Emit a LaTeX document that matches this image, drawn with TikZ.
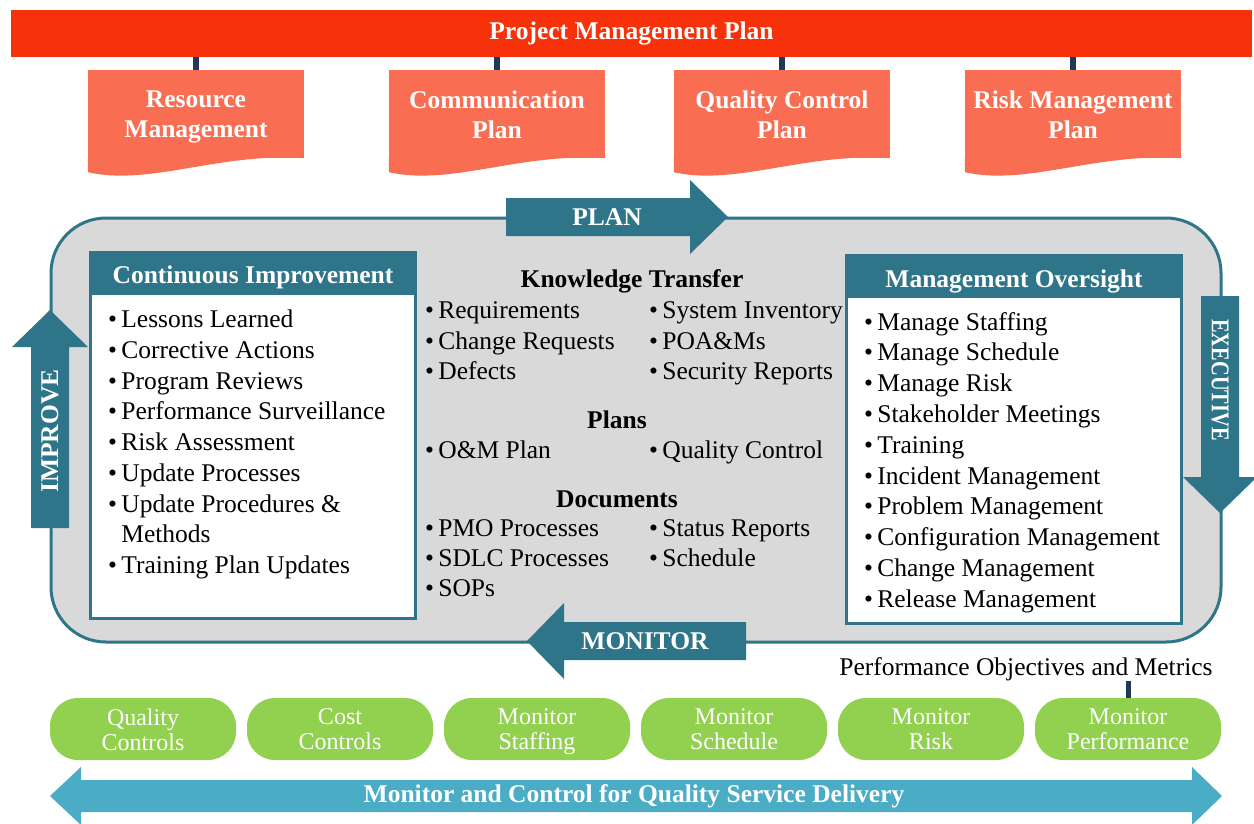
\documentclass[tikz,border=0pt]{standalone}
\usepackage{fontspec}
\usepackage{graphicx}
\setmainfont{Liberation Serif}
\usetikzlibrary{calc}
\definecolor{pmpred}{RGB}{247,50,10}
\definecolor{docorange}{RGB}{249,110,82}
\definecolor{linknavy}{RGB}{31,56,92}
\definecolor{cycleteal}{RGB}{46,117,137}
\definecolor{panelgray}{RGB}{217,217,217}
\definecolor{pillgreen}{RGB}{146,208,80}
\definecolor{deliveryblue}{RGB}{75,172,198}
\newcommand{\blt}{\textbullet\,}
\begin{document}
\begin{tikzpicture}[x=1pt, y=-1pt,
    bar/.style={fill=pmpred, inner sep=0pt, text=white, font=\bfseries\fontsize{25.5}{30}\selectfont},
    doc/.style={fill=docorange, minimum width=216pt, minimum height=88pt, inner sep=0pt},
    doctext/.style={inner sep=0pt, align=center, text=white, font=\bfseries\fontsize{25.5}{30}\selectfont, execute at end node=\vphantom{g}},
    link/.style={draw=linknavy, line width=6pt},
    panel/.style={draw=cycleteal, line width=3pt, fill=panelgray, rounded corners=55pt, inner sep=0pt},
    arrowtext/.style={text=white, inner sep=0pt, font=\bfseries\fontsize{25.5}{30}\selectfont},
    listbox/.style={draw=cycleteal, line width=3pt, fill=white, inner sep=0pt},
    listhead/.style={fill=cycleteal, inner sep=0pt, text height=21pt, text depth=0pt, text=white, font=\bfseries\fontsize{25.5}{30}\selectfont},
    listitem/.style={anchor=base west, inner sep=0pt, font=\fontsize{25.5}{30}\selectfont},
    heading/.style={anchor=base, inner sep=0pt, font=\bfseries\fontsize{25.5}{30}\selectfont},
    pill/.style={fill=pillgreen, rounded corners=28pt, minimum width=186pt, minimum height=62pt, inner sep=0pt},
    pilltext/.style={inner sep=0pt, align=center, text=white, font=\fontsize{24}{25}\selectfont, execute at end node=\vphantom{g}}]
  \useasboundingbox (0,0) rectangle (1254,823);
  \fill[white] (0,0) rectangle (1254,823);

  % plan documents
  \node[bar, minimum width=1241pt, minimum height=47pt] (pmp) at (631.5,33.5) {Project Management Plan};
  \foreach \x/\name/\txt in {196/res/{Resource\\Management}, 497/com/{Communication\\Plan}, 782/qcp/{Quality Control\\Plan}, 1073/rmp/{Risk Management\\Plan}} {
    \node[doc] (\name) at (\x,114) {};
    \fill[docorange] ([yshift=1pt]\name.south west) -- ($(\name.south west)+(0,14)$)
      .. controls ($(\name.south west)+(62,28)$) and ($(\name.south west)+(132,-6)$) .. (\name.south east)
      -- ([yshift=1pt]\name.south east) -- cycle;
    \node[doctext] (\name txt) at ([yshift=-3pt]\name.center) {\txt};
    \draw[link] (pmp.south -| \name.north) -- (\name.north);
  }

  % the cycle
  \node[panel, minimum width=1170pt, minimum height=424pt] (core) at (636,430) {};
  \fill[cycleteal] (506,198) -- (690,198) -- (690,180) -- (728,217) -- (690,254) -- (690,236) -- (506,236) -- cycle;
  \fill[cycleteal] (746,622) -- (564,622) -- (564,603) -- (527,641) -- (564,679) -- (564,660) -- (746,660) -- cycle;
  \fill[cycleteal] (31,528) -- (31,347) -- (12,347) -- (50,310) -- (88,347) -- (69,347) -- (69,528) -- cycle;
  \fill[cycleteal] (1201,296) -- (1201,477) -- (1183,477) -- (1220,513) -- (1257,477) -- (1239,477) -- (1239,296) -- cycle;
  \node[arrowtext] (plan) at (607,217) {PLAN};
  \node[arrowtext] (monitor) at (645,641) {MONITOR};
  \node[arrowtext, rotate=90] (improve) at (50,431) {IMPROVE};
  \node[arrowtext, rotate=-90] (executive) at (1220,380) {\scalebox{0.8}[1]{EXECUTIVE}};

  % continuous improvement
  \node[listbox, minimum width=325pt, minimum height=366pt] (ci) at (253,435.5) {};
  \node[listhead, minimum width=328pt, minimum height=44pt] (cihead) at (253,273) {Continuous Improvement};
  \foreach \y/\txt [count=\i] in {327/\blt Lessons Learned, 358/\blt Corrective Actions, 389/\blt Program Reviews,
      419/\blt Performance Surveillance, 450/\blt Risk Assessment, 481/\blt Update Processes,
      512/\blt Update Procedures \&, 542/\hphantom{\blt}Methods, 573/\blt Training Plan Updates}
    \node[listitem] (ci\i) at (108,\y) {\txt};

  % knowledge transfer
  \node[heading] (kt) at (632,287) {Knowledge Transfer};
  \node[heading] (plans) at (617,428) {Plans};
  \node[heading] (docs) at (617,507) {Documents};
  \foreach \y/\txt [count=\i] in {318/Requirements, 349/Change Requests, 379/Defects, 458/O\&M Plan,
      536/PMO Processes, 566/SDLC Processes, 596/SOPs}
    \node[listitem] (kl\i) at (425,\y) {\blt\txt};
  \foreach \y/\txt [count=\i] in {318/System Inventory, 349/POA\&Ms, 379/Security Reports, 458/Quality Control,
      536/Status Reports, 566/Schedule}
    \node[listitem] (kr\i) at (649,\y) {\blt\txt};

  % management oversight
  \node[listbox, minimum width=335pt, minimum height=368pt] (mo) at (1014,439.5) {};
  \node[listhead, minimum width=338pt, minimum height=43pt] (mohead) at (1014,276.5) {Management Oversight};
  \foreach \txt [count=\i] in {Manage Staffing, Manage Schedule, Manage Risk, Stakeholder Meetings, Training,
      Incident Management, Problem Management, Configuration Management, Change Management, Release Management}
    \node[listitem] (mo\i) at (864,{299.2+30.8*\i}) {\blt\txt};

  % monitoring
  \foreach \x/\name/\txt in {143/qc/{Quality\\Controls}, 340/cc/{Cost\\Controls}, 537/mst/{Monitor\\Staffing},
      734/msc/{Monitor\\Schedule}, 931/mrk/{Monitor\\Risk}, 1128/mperf/{Monitor\\Performance}} {
    \node[pill] (\name) at (\x,729) {};
    \node[pilltext] (\name txt) at ([yshift=-3pt]\name.center) {\txt};
  }
  \node[anchor=base, inner sep=0pt, font=\fontsize{25.5}{30}\selectfont] (pom) at (1026,675) {Performance Objectives and Metrics};
  \draw[link, line width=5pt] (pom.south -| mperf.north) -- (mperf.north);

  \fill[deliveryblue] (50,796) -- (81,767) -- (81,780) -- (1192,780) -- (1192,767) -- (1222,796)
    -- (1192,825) -- (1192,812) -- (81,812) -- (81,825) -- cycle;
  \node[arrowtext] (msd) at (634,796) {Monitor and Control for Quality Service Delivery};
\end{tikzpicture}
\end{document}
